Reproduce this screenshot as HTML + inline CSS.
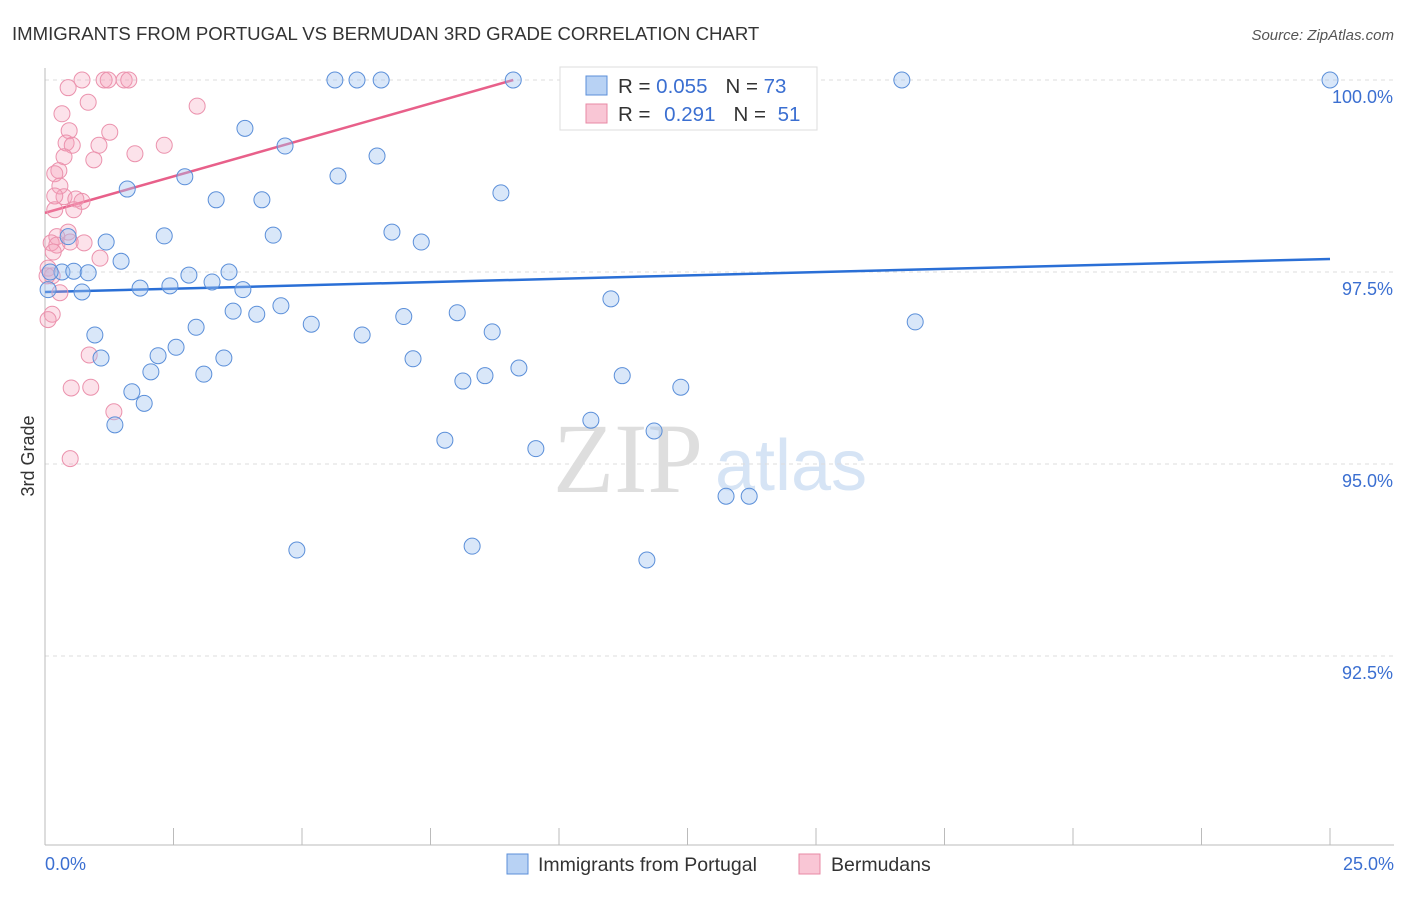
<!DOCTYPE html>
<html><head><meta charset="utf-8"><style>
body{margin:0;background:#fff;font-family:"Liberation Sans",sans-serif;}
svg text{font-family:"Liberation Sans",sans-serif;}
svg text.serif{font-family:"Liberation Serif",serif;}
</style></head><body>
<svg id="chart" width="1406" height="892" xmlns="http://www.w3.org/2000/svg">
<text x="12" y="40" font-size="18.6" fill="#333">IMMIGRANTS FROM PORTUGAL VS BERMUDAN 3RD GRADE CORRELATION CHART</text>
<text x="1394" y="40" font-size="15" fill="#555" text-anchor="end" font-style="italic">Source: ZipAtlas.com</text>
<text x="34" y="456" font-size="18" fill="#333" text-anchor="middle" transform="rotate(-90 34 456)">3rd Grade</text>
<g>
<text class="serif" x="553" y="492" font-size="100" fill="#dedede">ZIP</text>
<text x="715" y="490" font-size="72" fill="#d6e4f5">atlas</text>
</g>
<g id="grid"></g><g id="axes"></g><g id="trend"></g><g id="pts"></g>
<g>
<rect x="560" y="67" width="257" height="63" fill="#fff" stroke="#ddd"/>
<rect x="586" y="76" width="21" height="19" fill="#b8d2f4" stroke="#5b8fd9"/>
<rect x="586" y="104" width="21" height="19" fill="#f9c6d5" stroke="#e889a5"/>
<text x="618" y="93" font-size="20.5" fill="#333">R = <tspan fill="#3b6fd1">0.055</tspan><tspan dx="18">N = </tspan><tspan fill="#3b6fd1">73</tspan></text>
<text x="618" y="121" font-size="20.5" fill="#333">R = <tspan fill="#3b6fd1" dx="8">0.291</tspan><tspan dx="18">N = </tspan><tspan fill="#3b6fd1" dx="6">51</tspan></text>
</g>
<g>
<rect x="507" y="854" width="21" height="20" fill="#b8d2f4" stroke="#5b8fd9"/>
<text x="538" y="871" font-size="19.5" fill="#333">Immigrants from Portugal</text>
<rect x="799" y="854" width="21" height="20" fill="#f9c6d5" stroke="#e889a5"/>
<text x="831" y="871" font-size="19.5" fill="#333">Bermudans</text>
</g>
</svg>
<script>
const yTicks=[100,97.5,95,92.5];
const yTickLabels=["100.0%","97.5%","95.0%","92.5%"];
const xTicks=[0,2.5,5,7.5,10,12.5,15,17.5,20,22.5,25];
const blueX=[5.64,6.07,6.54,9.11,13.85,16.67,25.0,3.89,4.67,6.46,2.72,5.70,1.60,8.87,3.33,4.22,2.32,4.44,6.75,7.32,1.19,0.45,1.48,0.33,0.56,0.84,2.80,3.58,1.85,2.43,3.25,3.85,0.72,4.59,3.66,4.12,11.01,8.02,6.98,5.18,2.94,0.97,6.17,8.70,16.93,1.09,2.20,2.55,3.48,7.16,2.06,3.09,8.13,8.56,9.22,11.23,12.37,1.69,1.93,1.36,10.62,11.85,7.78,9.55,13.25,13.70,4.90,8.31,11.71,0.10,0.06];
const blueY=[100,100,100,100,100,100,100,99.37,99.14,99.01,98.74,98.75,98.58,98.53,98.44,98.44,97.97,97.98,98.02,97.89,97.89,97.96,97.64,97.50,97.51,97.49,97.46,97.50,97.29,97.32,97.37,97.27,97.24,97.06,96.99,96.95,97.15,96.97,96.92,96.82,96.78,96.68,96.68,96.72,96.85,96.38,96.41,96.52,96.38,96.37,96.20,96.17,96.08,96.15,96.25,96.15,96.00,95.94,95.79,95.51,95.57,95.43,95.31,95.20,94.58,94.58,93.88,93.93,93.75,97.50,97.27];
const pinkX=[0.72,1.15,1.23,1.54,1.63,0.45,13.00,0.84,0.33,2.96,0.47,1.26,0.41,0.53,1.05,2.32,1.75,0.37,0.95,0.27,0.19,0.29,0.37,0.60,0.19,0.72,0.56,0.19,0.45,0.23,0.12,0.23,0.49,0.76,0.16,1.07,0.06,0.14,0.29,0.14,0.06,0.86,0.51,0.89,1.34,0.49,0.04];
const pinkY=[100,100,100,100,100,99.90,100,99.71,99.56,99.66,99.34,99.32,99.18,99.15,99.15,99.15,99.04,99.00,98.96,98.82,98.78,98.62,98.48,98.45,98.49,98.42,98.31,98.31,98.02,97.96,97.88,97.85,97.89,97.88,97.76,97.68,97.55,97.45,97.23,96.95,96.88,96.42,95.99,96.00,95.68,95.07,97.45];
const blueTrendX=[0,25], blueTrendY=[97.24,97.67];
const pinkTrendX=[0,9.11], pinkTrendY=[98.27,100];
const NS="http://www.w3.org/2000/svg";
function sx(v){return 45+v/25*1285;}
function sy(v){return 80+(100-v)/2.5*192;}
function mk(tag,attrs,parent){const e=document.createElementNS(NS,tag);for(const k in attrs)e.setAttribute(k,attrs[k]);document.getElementById(parent).appendChild(e);return e;}
yTicks.forEach((t,i)=>{
 const l=mk('line',{x1:45,x2:1394,y1:sy(t),y2:sy(t),stroke:'#ddd','stroke-dasharray':'4,4'},'grid');
 
 
 const tx=mk('text',{x:1393,y:sy(t)+23,'font-size':18,fill:'#3b6fd1','text-anchor':'end'},'grid');
 tx.textContent=yTickLabels[i];
 
 
});
const ya=mk('line',{x1:45,x2:45,y1:68,y2:845,stroke:'#bbb'},'axes');


const xa=mk('line',{x1:45,x2:1394,y1:845,y2:845,stroke:'#bbb'},'axes');


xTicks.forEach(t=>{
 const l=mk('line',{x1:sx(t),x2:sx(t),y1:828,y2:845,stroke:'#bbb'},'axes');
 
 
});
const xl0=mk('text',{x:45,y:870,'font-size':18,fill:'#3b6fd1'},'axes');xl0.textContent='0.0%';


const xl1=mk('text',{x:1394,y:870,'font-size':18,fill:'#3b6fd1','text-anchor':'end'},'axes');xl1.textContent='25.0%';


for(let i=0;i<pinkX.length;i++){
 const c=mk('circle',{cx:sx(pinkX[i]),cy:sy(pinkY[i]),r:8,fill:'rgba(244,160,185,0.3)',stroke:'#eb92ad','stroke-width':1},'pts');
 
 
}
for(let i=0;i<blueX.length;i++){
 const c=mk('circle',{cx:sx(blueX[i]),cy:sy(blueY[i]),r:8,fill:'rgba(160,196,240,0.4)',stroke:'#5b8fd9','stroke-width':1},'pts');
 
 
}
const bt=mk('line',{x1:sx(blueTrendX[0]),y1:sy(blueTrendY[0]),x2:sx(blueTrendX[1]),y2:sy(blueTrendY[1]),stroke:'#2a6fd6','stroke-width':2.5},'trend');


const pt=mk('line',{x1:sx(pinkTrendX[0]),y1:sy(pinkTrendY[0]),x2:sx(pinkTrendX[1]),y2:sy(pinkTrendY[1]),stroke:'#e8608a','stroke-width':2.5},'trend');


</script>
</body></html>
